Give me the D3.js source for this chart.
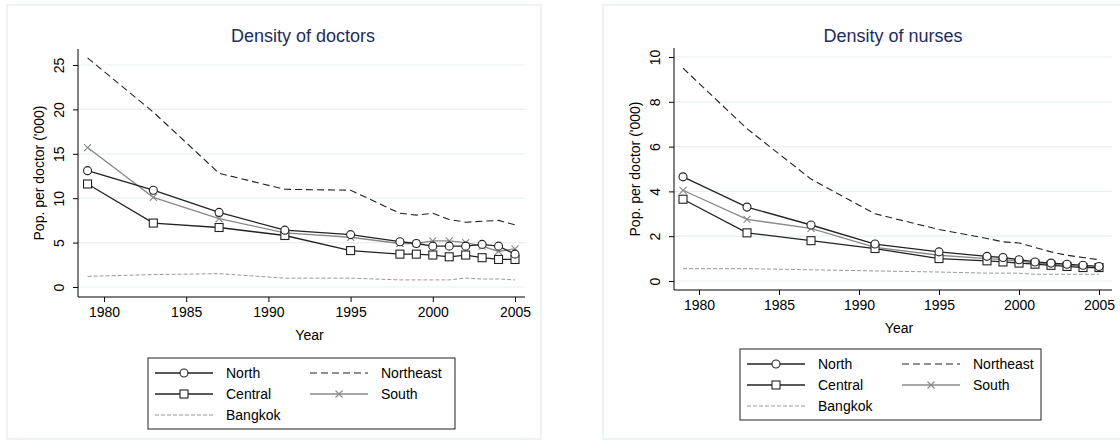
<!DOCTYPE html>
<html>
<head>
<style>
  body { margin: 0; background: #fff; }
  svg { font-family: "Liberation Sans", Arial, sans-serif; }
</style>
<script src="https://d3js.org/d3.v7.min.js"></script>
</head>
<body>
<svg id="chart" width="1120" height="446"></svg>
<script>
const years = [1979, 1983, 1987, 1991, 1995, 1998, 1999, 2000, 2001, 2002, 2003, 2004, 2005];
const xTicks = [1980, 1985, 1990, 1995, 2000, 2005];

const docNorth     = [13.1, 10.9, 8.4, 6.4, 5.9, 5.1, 4.9, 4.6, 4.6, 4.6, 4.8, 4.6, 3.7];
const docCentral   = [11.6, 7.2, 6.7, 5.8, 4.1, 3.7, 3.7, 3.6, 3.4, 3.6, 3.3, 3.1, 3.1];
const docSouth     = [15.7, 10.1, 7.7, 6.1, 5.6, 4.9, 4.9, 5.2, 5.2, 5.0, 4.6, 4.0, 4.3];
const docNortheast = [25.8, 19.7, 12.8, 11.0, 10.9, 8.3, 8.1, 8.3, 7.6, 7.3, 7.4, 7.5, 7.0];
const docBangkok   = [1.2, 1.4, 1.5, 1.0, 1.0, 0.8, 0.8, 0.8, 0.8, 1.0, 0.9, 0.9, 0.8];

const nurNorth     = [4.65, 3.3, 2.5, 1.65, 1.3, 1.1, 1.05, 0.95, 0.85, 0.8, 0.75, 0.7, 0.65];
const nurCentral   = [3.65, 2.15, 1.8, 1.45, 1.0, 0.9, 0.85, 0.8, 0.75, 0.7, 0.65, 0.6, 0.6];
const nurSouth     = [4.05, 2.75, 2.35, 1.5, 1.15, 1.0, 0.95, 0.9, 0.8, 0.75, 0.7, 0.65, 0.6];
const nurNortheast = [9.5, 6.8, 4.55, 3.0, 2.3, 1.9, 1.75, 1.7, 1.5, 1.3, 1.15, 1.05, 0.95];
const nurBangkok   = [0.55, 0.55, 0.5, 0.45, 0.4, 0.35, 0.35, 0.35, 0.3, 0.3, 0.3, 0.3, 0.3];

const styles = {
  North:     {color: "#222", dash: null, marker: "circle", w: 1.3},
  Northeast: {color: "#222", dash: "7,4", marker: null, w: 1.1},
  Central:   {color: "#222", dash: null, marker: "square", w: 1.3},
  South:     {color: "#888", dash: null, marker: "cross", w: 1.3},
  Bangkok:   {color: "#999", dash: "4,2", marker: null, w: 1}
};

const svg = d3.select("#chart");

function marker(g, type, x, y, color) {
  if (type === "circle") {
    g.append("circle").attr("cx", x).attr("cy", y).attr("r", 4)
      .attr("fill", "#fff").attr("stroke", color).attr("stroke-width", 1.1);
  } else if (type === "square") {
    g.append("rect").attr("x", x - 4).attr("y", y - 4).attr("width", 8).attr("height", 8)
      .attr("fill", "#fff").attr("stroke", color).attr("stroke-width", 1.1);
  } else if (type === "cross") {
    g.append("path").attr("d", `M${x-3.5},${y-3.5}L${x+3.5},${y+3.5}M${x-3.5},${y+3.5}L${x+3.5},${y-3.5}`)
      .attr("stroke", color).attr("stroke-width", 1.1);
  }
}

function panel(cfg) {
  const g = svg.append("g");
  g.append("rect").attr("x", cfg.box[0]).attr("y", cfg.box[1])
    .attr("width", cfg.box[2]).attr("height", cfg.box[3])
    .attr("fill", "#fff").attr("stroke", "#e6eef2").attr("stroke-width", 1.5);

  const x = d3.scaleLinear().domain([1980, 2005]).range(cfg.xr);
  const y = d3.scaleLinear().domain([0, cfg.ymax]).range(cfg.yr);

  g.selectAll(".grid").data(cfg.yTicks).enter().append("line")
    .attr("x1", cfg.axisX).attr("x2", cfg.right)
    .attr("y1", d => y(d)).attr("y2", d => y(d))
    .attr("stroke", "#e8f0f2").attr("stroke-width", 1.2);

  const ya = g.append("g").attr("transform", `translate(${cfg.axisX},0)`)
    .call(d3.axisLeft(y).tickValues(cfg.yTicks).tickSize(5));
  ya.select(".domain").attr("d", `M0,${cfg.axisY}V${cfg.top}`);
  ya.selectAll(".tick text").attr("x", 0).attr("dy", "0.35em")
    .attr("transform", "translate(-14,0) rotate(-90)")
    .style("text-anchor", "middle").attr("dy", 0)
    .style("font-size", "14px").style("font-family", "Liberation Sans, Arial");

  const xa = g.append("g").attr("transform", `translate(0,${cfg.axisY})`)
    .call(d3.axisBottom(x).tickValues(xTicks).tickFormat(d3.format("d")).tickSize(5).tickPadding(5));
  xa.select(".domain").attr("d", `M${cfg.axisX},0H${cfg.right}`);
  xa.selectAll("text").style("font-size", "14px").style("font-family", "Liberation Sans, Arial");

  g.append("text").attr("x", (cfg.xr[0] + cfg.xr[1]) / 2).attr("y", cfg.axisY + 43)
    .attr("text-anchor", "middle").attr("font-size", 14).text("Year");
  g.append("text").attr("transform", `translate(${cfg.axisX - 34},${(cfg.top + cfg.axisY) / 2}) rotate(-90)`)
    .attr("text-anchor", "middle").attr("font-size", 14).text("Pop. per doctor ('000)");
  g.append("text").attr("x", cfg.titleX).attr("y", 42).attr("text-anchor", "middle")
    .attr("font-size", 18).attr("fill", "#1e2d5a").text(cfg.title);

  const order = ["Bangkok", "Northeast", "South", "Central", "North"];
  order.forEach(name => {
    const st = styles[name];
    const vals = cfg.series[name];
    const line = d3.line().x((d, i) => x(years[i])).y(d => y(d));
    g.append("path").datum(vals).attr("d", line).attr("fill", "none")
      .attr("stroke", st.color).attr("stroke-width", st.w)
      .attr("stroke-dasharray", st.dash);
    if (st.marker) vals.forEach((v, i) => marker(g, st.marker, x(years[i]), y(v), st.color));
  });

  const L = cfg.legend;
  g.append("rect").attr("x", L[0]).attr("y", L[1]).attr("width", L[2]).attr("height", 71)
    .attr("fill", "#fff").attr("stroke", "#222").attr("stroke-width", 1);
  const items = [["North", 0, 0], ["Northeast", 1, 0], ["Central", 0, 1], ["South", 1, 1], ["Bangkok", 0, 2]];
  items.forEach(([name, c, r]) => {
    const st = styles[name];
    const lx = L[0] + 7 + c * 155, ly = L[1] + 15 + r * 21;
    g.append("line").attr("x1", lx).attr("x2", lx + 58).attr("y1", ly).attr("y2", ly)
      .attr("stroke", st.color).attr("stroke-width", st.w).attr("stroke-dasharray", st.dash);
    if (st.marker) marker(g, st.marker, lx + 29, ly, st.color);
    g.append("text").attr("x", lx + 71).attr("y", ly + 5).attr("font-size", 14).text(name);
  });
}

panel({
  box: [7, 5, 534, 434], title: "Density of doctors", titleX: 303,
  xr: [104, 515], axisX: 78, right: 525, top: 49, axisY: 297,
  ymax: 25, yr: [287, 65], yTicks: [0, 5, 10, 15, 20, 25],
  legend: [148, 358, 307],
  series: {North: docNorth, Central: docCentral, South: docSouth, Northeast: docNortheast, Bangkok: docBangkok}
});

panel({
  box: [603, 5, 530, 434], title: "Density of nurses", titleX: 893,
  xr: [699, 1099], axisX: 674, right: 1112, top: 48, axisY: 290,
  ymax: 10, yr: [281, 57], yTicks: [0, 2, 4, 6, 8, 10],
  legend: [740, 349, 301],
  series: {North: nurNorth, Central: nurCentral, South: nurSouth, Northeast: nurNortheast, Bangkok: nurBangkok}
});
</script>
</body>
</html>
